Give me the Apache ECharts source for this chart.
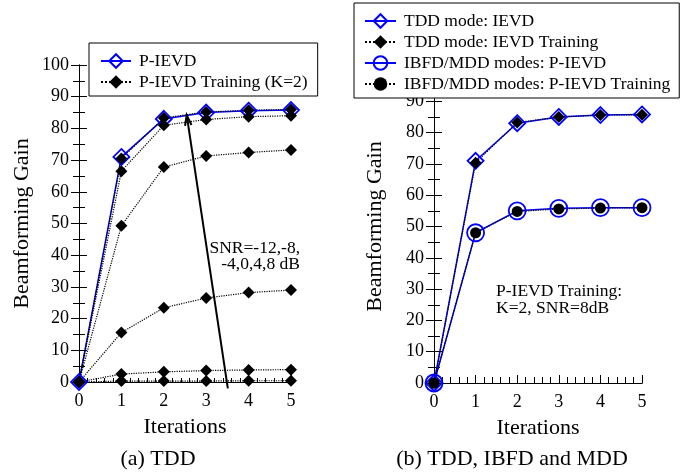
<!DOCTYPE html>
<html>
<head>
<meta charset="utf-8">
<script src="https://cdn.jsdelivr.net/npm/echarts@6/dist/echarts.min.js"></script>
<style>
  html, body { margin: 0; padding: 0; background: #fff; }
  #main { width: 689px; height: 472px; }
</style>
</head>
<body>
<div id="main"></div>
<script>
// x 轴：迭代次数
const iterations = [0, 1, 2, 3, 4, 5];

// (a) TDD
const pIevd = [0, 71, 83, 85, 85.6, 85.8];
const trainSnr8 = [0, 70.5, 83.3, 85.2, 85.7, 86];
const trainSnr4 = [0, 66.5, 81, 82.8, 83.7, 84];
const trainSnr0 = [0, 49.3, 67.8, 71.3, 72.4, 73.2];
const trainSnrM4 = [0, 15.6, 23.4, 26.5, 28.2, 29];
const trainSnrM8 = [0, 2.5, 3.2, 3.6, 3.8, 3.9];
const trainSnrM12 = [0, 0.3, 0.3, 0.3, 0.4, 0.4];
const arrowFrom = [3.51, -2];
const arrowTo = [2.54, 84.2];

// (b) TDD, IBFD and MDD
const tddIevd = [0, 71, 83, 85, 85.6, 85.8];
const tddTrain = [0, 70.4, 83.2, 85, 85.6, 85.7];
const ibfdPIevd = [0, 48, 55, 55.8, 56, 56];
const ibfdTrain = [0, 48, 54.8, 55.6, 55.9, 56];

const yTicks = [0, 100, 10]; // min, max, interval

const FONT = 'Liberation Serif';
const BLUE = '#0000ff';

let pair = arr => iterations.map((x, i) => [x, arr[i]]);

let chart = echarts.init(document.getElementById('main'));

let xAxisBase = (gi, minorLen) => ({
    type: 'value', gridIndex: gi, min: 0, max: 5, interval: 1,
    axisLine: {lineStyle: {color: '#000', width: 1}},
    axisTick: {inside: true, length: 8, lineStyle: {color: '#000'}},
    minorTick: {show: true, splitNumber: 5, length: minorLen, lineStyle: {color: '#000'}},
    splitLine: {show: false},
    axisLabel: {color: '#000', fontFamily: FONT, fontSize: 18, margin: 10},
    name: 'Iterations', nameLocation: 'middle', nameGap: 34,
    nameTextStyle: {color: '#000', fontFamily: FONT, fontSize: 22}
});
let xAxisTop = gi => ({
    type: 'value', gridIndex: gi, min: 0, max: 5, position: 'top',
    axisLine: {show: true, lineStyle: {color: '#000'}},
    axisTick: {show: false}, axisLabel: {show: false}, splitLine: {show: false}
});
let yAxisBase = (gi, right) => ({
    type: 'value', gridIndex: gi, min: yTicks[0], max: yTicks[1], interval: yTicks[2],
    position: right ? 'right' : 'left',
    axisLine: {show: true, lineStyle: {color: '#000', width: 1}},
    axisTick: {show: true, inside: true, length: 8, lineStyle: {color: '#000'}},
    minorTick: {show: true, splitNumber: 2, length: 6, lineStyle: {color: '#000'}},
    splitLine: {show: false},
    axisLabel: right ? {show: false} : {color: '#000', fontFamily: FONT, fontSize: 18, margin: 10},
    name: right ? '' : 'Beamforming Gain', nameLocation: 'middle', nameGap: gi === 0 ? 46 : 48,
    nameTextStyle: {color: '#000', fontFamily: FONT, fontSize: 22}
});

let blueLine = (name, data, gi, symbol, size) => ({
    name, type: 'line', xAxisIndex: gi * 2, yAxisIndex: gi * 2, data: pair(data),
    symbol, symbolSize: size, showAllSymbol: true,
    lineStyle: {color: BLUE, width: 1.5},
    itemStyle: {color: 'rgba(0,0,0,0)', borderColor: BLUE, borderWidth: 1.8},
    emphasis: {disabled: true}, animation: false
});
let blackLine = (name, data, gi, symbol, size) => ({
    name, type: 'line', xAxisIndex: gi * 2, yAxisIndex: gi * 2, data: pair(data),
    symbol, symbolSize: size,
    lineStyle: {color: '#000', width: 1.2, type: 'dotted'},
    itemStyle: {color: '#000'},
    emphasis: {disabled: true}, animation: false
});

const trainName = 'P-IEVD Training (K=2)';
let legendText = {color: '#000', fontFamily: FONT, fontSize: 17.5, padding: [0, 0, 0, 3]};

let option = {
    animation: false,
    grid: [
        {left: 79, right: 398, top: 65, bottom: 90},
        {left: 434, right: 47, top: 70, bottom: 89}
    ],
    xAxis: [xAxisBase(0, 4), xAxisTop(0), xAxisBase(1, 6), xAxisTop(1)],
    yAxis: [yAxisBase(0, false), yAxisBase(0, true), yAxisBase(1, false), yAxisBase(1, true)],
    legend: [
        {
            left: 89, top: 43, orient: 'vertical', itemWidth: 30, itemHeight: 17, itemGap: 3,
            padding: [9, 10, 5, 11], backgroundColor: '#fff', borderColor: '#000', borderWidth: 1,
            borderRadius: 0, textStyle: legendText, selectedMode: false,
            data: ['P-IEVD', trainName]
        },
        {
            left: 354, top: 3, orient: 'vertical', itemWidth: 31, itemHeight: 17, itemGap: 3,
            padding: [9, 9, 5, 10], backgroundColor: '#fff', borderColor: '#000', borderWidth: 1,
            borderRadius: 0, textStyle: legendText, selectedMode: false,
            data: ['TDD mode: IEVD', 'TDD mode: IEVD Training',
                'IBFD/MDD modes: P-IEVD', 'IBFD/MDD modes: P-IEVD Training']
        }
    ],
    series: [
        blueLine('P-IEVD', pIevd, 0, 'diamond', 16),
        blackLine(trainName, trainSnrM12, 0, 'diamond', 12),
        blackLine(trainName, trainSnrM8, 0, 'diamond', 12),
        blackLine(trainName, trainSnrM4, 0, 'diamond', 12),
        blackLine(trainName, trainSnr0, 0, 'diamond', 12),
        blackLine(trainName, trainSnr4, 0, 'diamond', 12),
        blackLine(trainName, trainSnr8, 0, 'diamond', 12),

        blueLine('TDD mode: IEVD', tddIevd, 1, 'diamond', 16),
        blackLine('TDD mode: IEVD Training', tddTrain, 1, 'diamond', 12),
        blueLine('IBFD/MDD modes: P-IEVD', ibfdPIevd, 1, 'circle', 17),
        blackLine('IBFD/MDD modes: P-IEVD Training', ibfdTrain, 1, 'circle', 11)
    ]
};
chart.setOption(option);

// 箭头和文字标注
let p1 = chart.convertToPixel({xAxisIndex: 0, yAxisIndex: 0}, arrowFrom);
let p2 = chart.convertToPixel({xAxisIndex: 0, yAxisIndex: 0}, arrowTo);
let ang = Math.atan2(p1[1] - p2[1], p1[0] - p2[0]);
let headLen = 11, headAng = 0.3;
let h1 = [p2[0] + headLen * Math.cos(ang - headAng), p2[1] + headLen * Math.sin(ang - headAng)];
let h2 = [p2[0] + headLen * Math.cos(ang + headAng), p2[1] + headLen * Math.sin(ang + headAng)];

let txt = (x, y, text, align) => ({
    type: 'text', left: x, top: y, z: 10,
    style: {text, fill: '#000', font: '17.5px "Liberation Serif"', align: align || 'left', lineHeight: 16}
});

chart.setOption({
    graphic: [
        {type: 'line', z: 20, shape: {x1: p1[0], y1: p1[1], x2: p2[0], y2: p2[1]},
            style: {stroke: '#000', lineWidth: 2}},
        {type: 'polyline', z: 20, shape: {points: [h1, p2, h2]},
            style: {stroke: '#000', lineWidth: 2, fill: null}},
        {type: 'text', z: 10, x: 300, y: 240,
            style: {text: 'SNR=-12,-8,\n-4,0,4,8 dB', fill: '#000', font: '17.5px "Liberation Serif"',
                align: 'right', lineHeight: 16}},
        {type: 'text', z: 10, x: 496, y: 283,
            style: {text: 'P-IEVD Training:\nK=2, SNR=8dB', fill: '#000', font: '17.5px "Liberation Serif"',
                lineHeight: 17}},
        {type: 'text', z: 10, x: 158, y: 459,
            style: {text: '(a) TDD', fill: '#000', font: '22px "Liberation Serif"',
                align: 'center', verticalAlign: 'middle'}},
        {type: 'text', z: 10, x: 512, y: 459,
            style: {text: '(b) TDD, IBFD and MDD', fill: '#000', font: '22px "Liberation Serif"',
                align: 'center', verticalAlign: 'middle'}}
    ]
});
</script>
</body>
</html>
